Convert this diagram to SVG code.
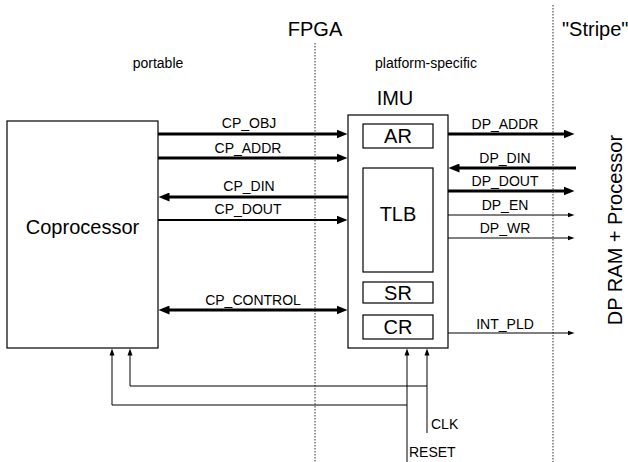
<svg xmlns="http://www.w3.org/2000/svg" width="628" height="462" viewBox="0 0 628 462">
<style>
  text { font-family: "Liberation Sans", Arial, sans-serif; fill: #000; }
  .big { font-size: 20px; }
  .sm { font-size: 14px; }
  .mid { text-anchor: middle; }
  .box { fill: #fff; stroke: #000; stroke-width: 1.2; }
  .dot { stroke: #333; stroke-width: 1; stroke-dasharray: 1.5 1.5; fill: none; }
  .thick { stroke: #000; stroke-width: 3; fill: none; }
  .med { stroke: #000; stroke-width: 2.2; fill: none; }
  .thin { stroke: #000; stroke-width: 1; fill: none; }
</style>
<defs>
  <marker id="ah" markerUnits="userSpaceOnUse" markerWidth="12" markerHeight="9" refX="0.5" refY="4.5" orient="auto-start-reverse">
    <path d="M0,0 L11,4.5 L0,9 z" fill="#000"/>
  </marker>
  <marker id="as" markerUnits="userSpaceOnUse" markerWidth="8" markerHeight="6" refX="0.5" refY="3" orient="auto-start-reverse">
    <path d="M0,0.5 L7,3 L0,5.5 z" fill="#000"/>
  </marker>
</defs>

<g id="separators">
  <line class="dot" x1="315" y1="43" x2="315" y2="462"/>
  <line class="dot" x1="553" y1="5" x2="553" y2="462"/>
  <text class="big mid" x="315" y="36">FPGA</text>
  <text class="big" x="562" y="36">"Stripe"</text>
  <text class="sm mid" x="158" y="68">portable</text>
  <text class="sm mid" x="426" y="68">platform-specific</text>
</g>

<g id="coprocessor">
  <rect class="box" x="7" y="121" width="151" height="227"/>
  <text class="big mid" x="82.5" y="234">Coprocessor</text>
</g>

<g id="imu">
  <text class="big mid" x="395" y="105">IMU</text>
  <rect class="box" x="348" y="115" width="100" height="233"/>
  <g id="ar">
    <rect class="box" x="363" y="124" width="70" height="24"/>
    <text class="big mid" x="398" y="143">AR</text>
  </g>
  <g id="tlb">
    <rect class="box" x="363" y="168" width="70" height="104"/>
    <text class="big mid" x="398" y="221">TLB</text>
  </g>
  <g id="sr">
    <rect class="box" x="363" y="282" width="70" height="21"/>
    <text class="big mid" x="398" y="300">SR</text>
  </g>
  <g id="cr">
    <rect class="box" x="363" y="315" width="70" height="24"/>
    <text class="big mid" x="398" y="334">CR</text>
  </g>
</g>

<g id="dp-ram">
  <text class="big mid" transform="translate(622,230) rotate(-90)" x="0" y="0">DP RAM + Processor</text>
</g>

<g id="connectors">
  <line class="thick" x1="158" y1="134" x2="337" y2="134" marker-end="url(#ah)"/>
  <text class="sm mid" x="249" y="128">CP_OBJ</text>
  <line class="thick" x1="158" y1="158" x2="337" y2="158" marker-end="url(#ah)"/>
  <text class="sm mid" x="248" y="153">CP_ADDR</text>
  <line class="thick" x1="169" y1="197" x2="348" y2="197" marker-start="url(#ah)"/>
  <text class="sm mid" x="249" y="191">CP_DIN</text>
  <line class="med" x1="158" y1="220" x2="337" y2="220" marker-end="url(#ah)"/>
  <text class="sm mid" x="248" y="214">CP_DOUT</text>
  <line class="thick" x1="169" y1="310" x2="337" y2="310" marker-start="url(#ah)" marker-end="url(#ah)"/>
  <text class="sm mid" x="253" y="305">CP_CONTROL</text>

  <line class="thick" x1="448" y1="134" x2="564" y2="134" marker-end="url(#ah)"/>
  <text class="sm mid" x="505" y="129">DP_ADDR</text>
  <line class="thick" x1="459" y1="168" x2="576" y2="168" marker-start="url(#ah)"/>
  <text class="sm mid" x="505" y="163">DP_DIN</text>
  <line class="thick" x1="448" y1="191" x2="564" y2="191" marker-end="url(#ah)"/>
  <text class="sm mid" x="505" y="186">DP_DOUT</text>
  <line class="thin" x1="448" y1="215" x2="568" y2="215" marker-end="url(#as)"/>
  <text class="sm mid" x="505" y="210">DP_EN</text>
  <line class="thin" x1="448" y1="238" x2="568" y2="238" marker-end="url(#as)"/>
  <text class="sm mid" x="505" y="233">DP_WR</text>
  <line class="thin" x1="448" y1="333" x2="568" y2="333" marker-end="url(#as)"/>
  <text class="sm mid" x="505" y="329">INT_PLD</text>

  <path class="thin" d="M427,433 L427,355" marker-end="url(#as)"/>
  <path class="thin" d="M427,386 L130,386 L130,355" marker-end="url(#as)"/>
  <path class="thin" d="M407,462 L407,355" marker-end="url(#as)"/>
  <path class="thin" d="M407,405 L112,405 L112,355" marker-end="url(#as)"/>
  <text class="sm" x="431" y="429">CLK</text>
  <text class="sm" x="409" y="457">RESET</text>
</g>
</svg>
